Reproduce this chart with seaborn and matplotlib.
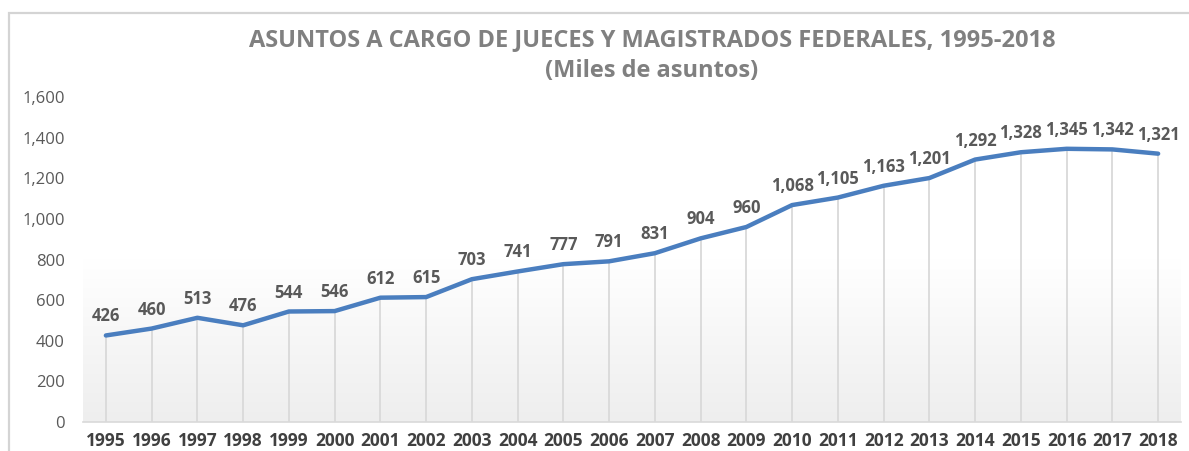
import numpy as np
import pandas as pd
import seaborn as sns
import matplotlib.pyplot as plt
from matplotlib.colors import LinearSegmentedColormap
from matplotlib.patches import Rectangle

# data (miles de asuntos)
years = [1995, 1996, 1997, 1998, 1999, 2000, 2001, 2002, 2003, 2004, 2005, 2006,
         2007, 2008, 2009, 2010, 2011, 2012, 2013, 2014, 2015, 2016, 2017, 2018]
asuntos = [426, 460, 513, 476, 544, 546, 612, 615, 703, 741, 777, 791,
           831, 904, 960, 1068, 1105, 1163, 1201, 1292, 1328, 1345, 1342, 1321]
y_ticks = [0, 200, 400, 600, 800, 1000, 1200, 1400, 1600]

df = pd.DataFrame({"pos": np.arange(len(years)), "asuntos": asuntos})

sns.set_style("white")
plt.rcParams['font.family'] = ['Open Sans', 'DejaVu Sans']

fig = plt.figure(figsize=(11.89, 4.51), dpi=100)
ax = fig.add_axes([83 / 1189, 1 - 422 / 451, (1181 - 83) / 1189, (422 - 97) / 451])

# outer chart frame (only left and top edges fall inside the picture)
fig.patches.append(Rectangle((8.5 / 1189, -0.5), 1.5, 1.5 - 12.5 / 451,
                             transform=fig.transFigure, fill=False,
                             edgecolor="#d4d4d4", linewidth=1.6, zorder=0))

# plot area gradient, white at top to light grey at bottom
cmap = LinearSegmentedColormap.from_list("grad", ["#ffffff", "#ffffff", "#eeeeee"])
grad = np.linspace(0, 1, 256).reshape(-1, 1)
ax.imshow(grad, cmap=cmap, aspect="auto", extent=[-0.5, 23.5, 0, 1600],
          origin="upper", zorder=0)

# drop lines from each point down to the axis
ax.vlines(df["pos"], 0, df["asuntos"], color="#d9d9d9", linewidth=1.3, zorder=1)

sns.lineplot(data=df, x="pos", y="asuntos", ax=ax, color="#4a7ebf",
             linewidth=3.2, zorder=3, solid_capstyle="round")

for p, v in zip(df["pos"], df["asuntos"]):
    ax.annotate(f"{v:,}", (p, v), xytext=(0, 10), textcoords="offset pixels",
                ha="center", va="bottom", fontsize=12, fontweight="bold",
                color="#595959", annotation_clip=False)

ax.set_xlim(-0.5, 23.5)
ax.set_ylim(0, 1600)
ax.set_xticks(df["pos"])
ax.set_xticklabels([str(y) for y in years], fontsize=12.5, fontweight="bold", color="#404040")
ax.set_yticks(y_ticks)
ax.set_yticklabels([f"{t:,}" for t in y_ticks], fontsize=12, color="#595959")
ax.tick_params(axis="both", length=0)
ax.tick_params(axis="x", pad=7)
ax.tick_params(axis="y", pad=13)
ax.set_xlabel("")
ax.set_ylabel("")
for s in ["top", "right", "left"]:
    ax.spines[s].set_visible(False)
ax.spines["bottom"].set_color("#d9d9d9")
ax.spines["bottom"].set_linewidth(1.2)

fig.text(652 / 1189, 1 - 40 / 451, "ASUNTOS A CARGO DE JUECES Y MAGISTRADOS FEDERALES, 1995-2018",
         ha="center", va="center", fontsize=17, fontweight="bold", color="#808080")
fig.text(652 / 1189, 1 - 71 / 451, "(Miles de asuntos)",
         ha="center", va="center", fontsize=17, fontweight="bold", color="#808080")

fig.savefig("out.png", dpi=100)
